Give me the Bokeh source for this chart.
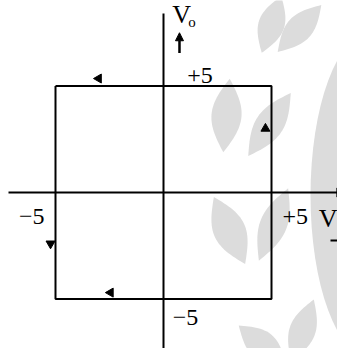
import math
from bokeh.plotting import figure
from bokeh.models import Range1d, Arrow, NormalHead
from bokeh.core.properties import value
from bokeh.embed import file_html
from bokeh.resources import INLINE

# Hysteresis loop of a comparator: output saturates at +/-5 V, thresholds at +/-5 V
loop_vin = [-5, 5, 5, -5, -5]
loop_vout = [5, 5, -5, -5, 5]

# direction markers on the loop (position, pointing angle)
dir_x = [-3.0, 4.72, -5.23, -2.45]
dir_y = [5.35, 3.0, -2.4, -4.7]
dir_angle = [math.pi / 2, 0.0, math.pi, math.pi / 2]

# tick labels
tick_text = ["+5", "\u22125", "+5", "\u22125"]
tick_x = [1.1, -6.1, 6.1, 1.02]
tick_y = [5.12, -1.13, -1.13, -5.87]
tick_align = ["left", "center", "center", "center"]
tick_base = ["bottom", "middle", "middle", "middle"]

PXX, PXY = 21.6, 21.3   # pixels per volt
OX, OY = 163, 192       # origin in pixels
W, H = 337, 348

p = figure(width=W, height=H, output_backend="svg", toolbar_location=None,
           min_border=0, x_axis_type=None, y_axis_type=None)
p.x_range = Range1d(-OX / PXX, (W - OX) / PXX)
p.y_range = Range1d(-(H - OY) / PXY, OY / PXY)
p.grid.visible = False
p.outline_line_color = None
p.background_fill_color = "white"
p.border_fill_color = "white"


def to_data(px, py):
    return (px - OX) / PXX, (OY - py) / PXY


# faint leaf watermark in the background
leaves = [  # cx, cy, length, width, tilt (deg)
    (226, 115, 74, 30, 5),
    (269, 124, 76, 28, 34),
    (271, 24, 60, 26, 19),
    (299, 28, 64, 26, 43),
    (229, 230, 74, 32, -25),
    (273, 224, 78, 27, 22),
    (262, 345, 62, 28, -50),
    (302, 330, 66, 26, 20),
]
lxs, lys = [], []
for cx, cy, L, Wd, tilt in leaves:
    a = math.radians(tilt)
    xs, ys = [], []
    n = 30
    pts = []
    for i in range(n + 1):
        t = i / n
        pts.append((Wd / 2 * math.sin(math.pi * t), (t - 0.5) * L))
    for i in range(n, -1, -1):
        t = i / n
        pts.append((-Wd / 2 * math.sin(math.pi * t), (t - 0.5) * L))
    for u, v in pts:
        px = cx + u * math.cos(a) + v * math.sin(a)
        py = cy + u * math.sin(a) - v * math.cos(a)
        dx, dy = to_data(px, py)
        xs.append(dx)
        ys.append(dy)
    lxs.append(xs)
    lys.append(ys)
p.patches(lxs, lys, fill_color="#dcdcdc", line_color=None)
ex, ey = to_data(370, 195)
p.ellipse(x=[ex], y=[ey], width=[120 / PXX], height=[324 / PXY],
          fill_color="#dcdcdc", line_color=None)

# axes
p.line([to_data(8, 0)[0], to_data(338, 0)[0]], [0, 0],
       line_color="black", line_width=2)
p.line([0, 0], [to_data(0, 13)[1], to_data(0, 350)[1]],
       line_color="black", line_width=2)
p.scatter(x=[to_data(339, 0)[0]], y=[0], marker="triangle", angle=-math.pi / 2,
          size=9, fill_color="black", line_color="black")

# hysteresis loop
p.line(loop_vin, loop_vout, line_color="black", line_width=2)
p.scatter(x=dir_x, y=dir_y, marker="triangle", angle=dir_angle, size=9,
          fill_color="black", line_color="black")

# V_o arrow
p.add_layout(Arrow(end=NormalHead(size=8, fill_color="black", line_color="black"),
                   x_start=0.74, y_start=6.55, x_end=0.74, y_end=7.5,
                   line_width=2.5, line_color="black"))

serif = value("Liberation Serif")
for t, x, y, al, bl in zip(tick_text, tick_x, tick_y, tick_align, tick_base):
    p.text(x=[x], y=[y], text=[t], text_font=serif, text_font_size="24px",
           text_align=al, text_baseline=bl, text_color="black")

# axis names
p.text(x=[0.40], y=[8.36], text=["V"], text_font=serif, text_font_size="26px",
       text_align="left", text_baseline="middle", text_color="black")
p.text(x=[1.15], y=[8.0], text=["o"], text_font=serif, text_font_size="15px",
       text_align="left", text_baseline="middle", text_color="black")
p.text(x=[to_data(337, 0)[0]], y=[-1.22], text=["V"], text_font=serif,
       text_font_size="26px", text_align="right", text_baseline="middle",
       text_color="black")
p.line([to_data(330, 0)[0], to_data(338, 0)[0]], [to_data(0, 240)[1]] * 2,
       line_color="black", line_width=2)

open("out.html", "w").write(file_html(p, INLINE))
